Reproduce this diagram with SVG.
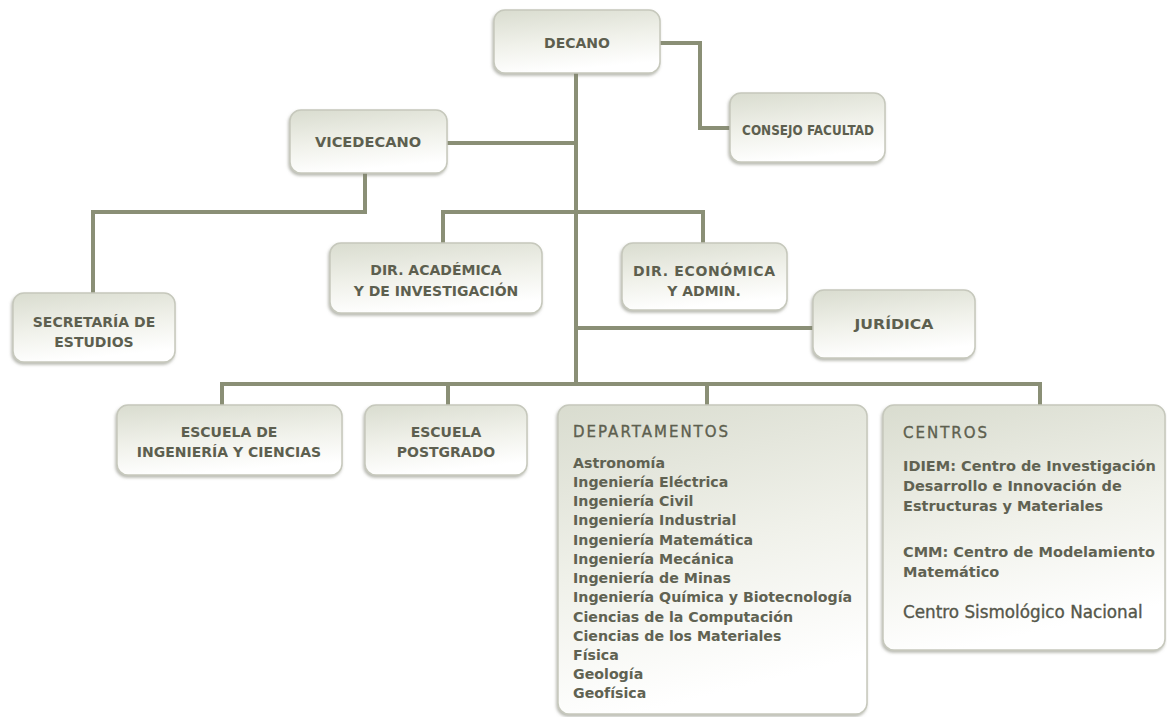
<svg xmlns="http://www.w3.org/2000/svg" width="1167" height="717" viewBox="0 0 1167 717">
<defs>
<linearGradient id="bg" x1="0" y1="0" x2="0.25" y2="1">
<stop offset="0" stop-color="#d9dccf"/>
<stop offset="0.55" stop-color="#f0f1ea"/>
<stop offset="1" stop-color="#ffffff"/>
</linearGradient>
<filter id="sh" x="-10%" y="-10%" width="120%" height="130%">
<feDropShadow dx="-1" dy="2" stdDeviation="1.5" flood-color="#7d7f70" flood-opacity="0.55"/>
</filter>
</defs>
<style>
.box{fill:url(#bg);stroke:#c6c8bc;stroke-width:1.5;filter:url(#sh)}
.conn{fill:none;stroke:#8a8f76;stroke-width:4}
.t{font-family:"DejaVu Sans",Verdana,sans-serif;font-weight:bold;font-size:14px;fill:#5d5f4f;text-anchor:middle}
.h{font-family:"DejaVu Sans",Verdana,sans-serif;font-size:15px;fill:#5d5f4f;stroke:#5d5f4f;stroke-width:0.35;letter-spacing:2px}
.l{font-family:"DejaVu Sans",Verdana,sans-serif;font-weight:bold;font-size:14.2px;fill:#606252}
.c{font-family:"DejaVu Sans",Verdana,sans-serif;font-weight:bold;font-size:14.5px;fill:#606252}
.n{font-family:"DejaVu Sans",Verdana,sans-serif;font-size:16.8px;fill:#55574a;stroke:#55574a;stroke-width:0.35}
</style>
<rect width="1167" height="717" fill="#ffffff"/>
<g id="connectors">
<path class="conn" d="M660,43 H700 V128 H730"/>
<path class="conn" d="M576,73 V384"/>
<path class="conn" d="M447,143 H576"/>
<path class="conn" d="M365,173 V212 H93 V293"/>
<path class="conn" d="M443,243 V212 H703 V243"/>
<path class="conn" d="M576,328 H813"/>
<path class="conn" d="M222,405 V384 H1040 V405"/>
<path class="conn" d="M448,384 V405"/>
<path class="conn" d="M707,384 V405"/>
</g>
<g id="decano"><rect class="box" x="494" y="10" width="166" height="63" rx="11"/><text class="t" x="577" y="48">DECANO</text></g>
<g id="vicedecano"><rect class="box" x="290" y="110" width="157" height="63" rx="11"/><text class="t" x="368" y="147" style="font-size:14.6px">VICEDECANO</text></g>
<g id="consejo"><rect class="box" x="730" y="93" width="155" height="69" rx="11"/><text class="t" transform="translate(808,135) scale(0.86,1)">CONSEJO FACULTAD</text></g>
<g id="secretaria"><rect class="box" x="13" y="293" width="162" height="69" rx="11"/><text class="t" x="94" y="327">SECRETARÍA DE</text><text class="t" x="94" y="347">ESTUDIOS</text></g>
<g id="dir-academica"><rect class="box" x="330" y="243" width="212" height="70" rx="11"/><text class="t" x="436" y="275">DIR. ACADÉMICA</text><text class="t" x="436" y="296">Y DE INVESTIGACIÓN</text></g>
<g id="dir-economica"><rect class="box" x="622" y="243" width="165" height="67" rx="11"/><text class="t" x="704" y="276" textLength="142" lengthAdjust="spacing">DIR. ECONÓMICA</text><text class="t" x="704" y="296">Y ADMIN.</text></g>
<g id="juridica"><rect class="box" x="813" y="290" width="162" height="68" rx="11"/><text class="t" transform="translate(894,329) scale(1.12,1)">JURÍDICA</text></g>
<g id="escuela-ingenieria"><rect class="box" x="117" y="405" width="225" height="70" rx="11"/><text class="t" x="229" y="437">ESCUELA DE</text><text class="t" x="229" y="457">INGENIERÍA Y CIENCIAS</text></g>
<g id="escuela-postgrado"><rect class="box" x="365" y="405" width="162" height="70" rx="11"/><text class="t" x="446" y="437">ESCUELA</text><text class="t" x="446" y="457">POSTGRADO</text></g>
<g id="departamentos"><rect class="box" x="558" y="405" width="309" height="309" rx="11"/>
<text class="h" x="573" y="437">DEPARTAMENTOS</text>
<text class="l" x="573" y="468">Astronomía</text>
<text class="l" x="573" y="487">Ingeniería Eléctrica</text>
<text class="l" x="573" y="506">Ingeniería Civil</text>
<text class="l" x="573" y="525">Ingeniería Industrial</text>
<text class="l" x="573" y="545">Ingeniería Matemática</text>
<text class="l" x="573" y="564">Ingeniería Mecánica</text>
<text class="l" x="573" y="583">Ingeniería de Minas</text>
<text class="l" x="573" y="602">Ingeniería Química y Biotecnología</text>
<text class="l" x="573" y="622">Ciencias de la Computación</text>
<text class="l" x="573" y="641">Ciencias de los Materiales</text>
<text class="l" x="573" y="660">Física</text>
<text class="l" x="573" y="679">Geología</text>
<text class="l" x="573" y="698">Geofísica</text>
</g>
<g id="centros"><rect class="box" x="883" y="405" width="282" height="245" rx="11"/>
<text class="h" x="903" y="438">CENTROS</text>
<text class="c" x="903" y="471">IDIEM: Centro de Investigación</text>
<text class="c" x="903" y="491">Desarrollo e Innovación de</text>
<text class="c" x="903" y="511">Estructuras y Materiales</text>
<text class="c" x="903" y="557">CMM: Centro de Modelamiento</text>
<text class="c" x="903" y="577">Matemático</text>
<text class="n" x="903" y="618">Centro Sismológico Nacional</text>
</g>
</svg>
